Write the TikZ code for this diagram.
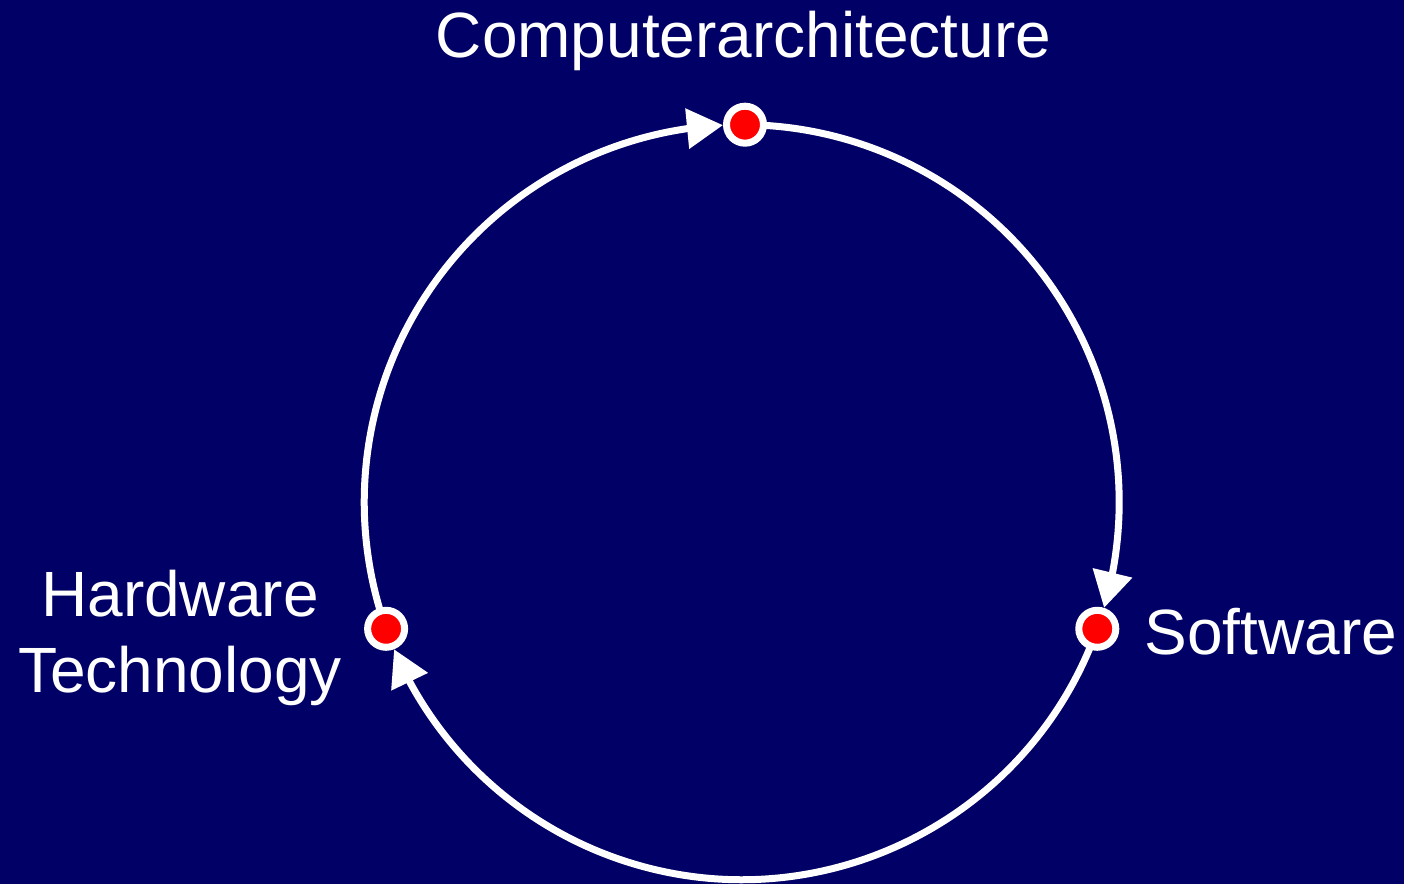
\documentclass[tikz,border=0pt]{standalone}
\usepackage{fontspec}
\setmainfont{Liberation Sans}
\usetikzlibrary{arrows.meta,bending}
\definecolor{navy}{HTML}{000066}
\definecolor{dotred}{HTML}{FF0000}
\begin{document}
\begin{tikzpicture}[x=0.5pt,y=0.5pt,
  stage/.style={circle,fill=dotred,draw=white,line width=3.5pt,
    minimum size=18.5pt,inner sep=0pt},
  label/.style={text=white,inner sep=0pt,
    font=\fontsize{32pt}{38pt}\selectfont},
  cycle/.style={draw=white,line width=3.5pt,
    -{Triangle[length=18pt,width=19.5pt]}}]
  % canvas
  \useasboundingbox (0,0) rectangle (1404,884);
  \fill[navy] (0,0) rectangle (1404,884);

  % positions of the three stages on a circle of radius 377.5 round (741.7,381.8)
  \coordinate (pca) at (745.0,759.3);
  \coordinate (psw) at (1097.3,255.2);
  \coordinate (phw) at (386.1,255.2);

  % arcs of the loop; each stops 3.34 degrees (one dot radius) short of
  % the next stage, where its arrow tip meets the dot
  \draw[cycle] (pca) arc[start angle=89.5,end angle=-16.26,radius=188.75pt];
  \draw[cycle] (psw) arc[start angle=-19.6,end angle=-157.06,radius=188.75pt];
  \draw[cycle] (phw) arc[start angle=199.6,end angle=92.84,radius=188.75pt];

  % the stages
  \node[stage] (ca) at (pca) {};
  \node[stage] (sw) at (psw) {};
  \node[stage] (hw) at (phw) {};

  % labels
  \node[label,anchor=base] (calab) at (743.5,826) {Computerarchitecture};
  \node[label,anchor=base west] (swlab) at (1144,229) {Software};
  \node[label,align=center,anchor=base] (hwlab) at (180,191) {Hardware\\Technology};
\end{tikzpicture}
\end{document}
